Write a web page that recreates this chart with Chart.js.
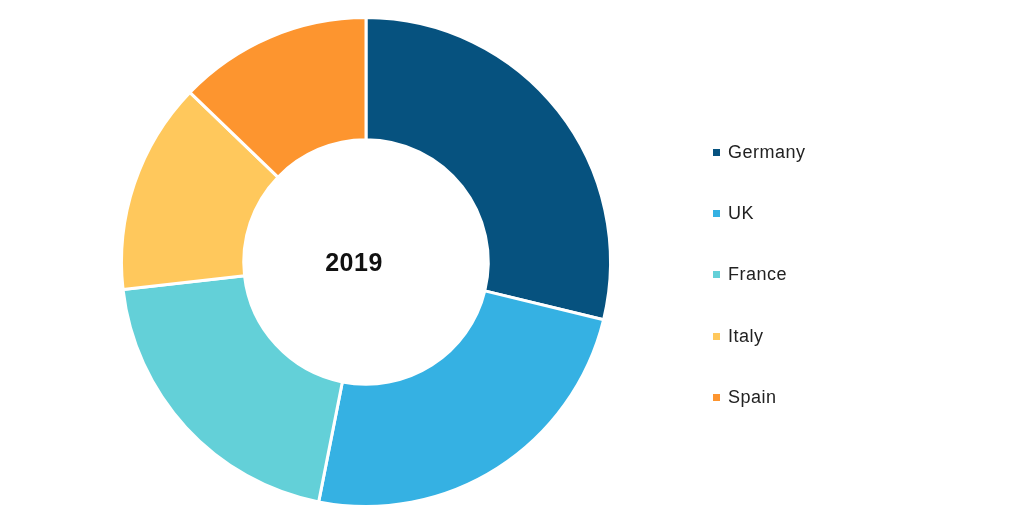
<!DOCTYPE html>
<html>
<head>
<meta charset="utf-8">
<script src="https://cdn.jsdelivr.net/npm/chart.js@4/dist/chart.umd.min.js"></script>
<style>
  html, body { margin: 0; padding: 0; background: #fff; }
  #wrap { position: relative; width: 1016px; height: 523px; }
  #centerLabel {
    position: absolute; left: 304px; top: 247px; width: 100px; text-align: center;
    font: bold 25px "Liberation Sans", Arial, sans-serif; line-height: 30px; color: #111;
    letter-spacing: 0.5px;
  }
  #legend { position: absolute; left: 713px; top: 0; font: 18px "Liberation Sans", Arial, sans-serif; color: #222; }
  .item { position: absolute; left: 0; white-space: nowrap; line-height: 20px; letter-spacing: 0.5px; }
  .item span.box { display: inline-block; width: 7px; height: 7px; margin-right: 8px; vertical-align: 2px; }
</style>
</head>
<body>
<div id="wrap">
  <canvas id="donut" width="1016" height="523"></canvas>
  <div id="centerLabel">2019</div>
  <div id="legend"></div>
</div>
<script>
// chart data
var countries = ["Germany", "UK", "France", "Italy", "Spain"];
var shares    = [28.8, 24.3, 20.1, 14.0, 12.8];
var colours   = ["#06527F", "#35B1E3", "#63D0D8", "#FFC85C", "#FD952F"];
var year      = "2019";

document.getElementById('centerLabel').textContent = year;

//	legend built from the same arrays
var legend = document.getElementById('legend');
var legendTops = [142, 203, 264, 326, 387];
countries.forEach(function (name, i) {
    var div = document.createElement('div');
    div.className = 'item';
    div.style.top = legendTops[i] + 'px';
    div.innerHTML = '<span class="box" style="background:' + colours[i] + '"></span>' + name;
    legend.appendChild(div);
});

var ctx = document.getElementById('donut');
new Chart(ctx, {
    type: 'doughnut',
    data: {
        labels: countries,
        datasets: [{
            data: shares,
            backgroundColor: colours,
            borderColor: '#ffffff',
            borderWidth: 3
        }]
    },
    options: {
        responsive: false,
        animation: false,
        cutout: '50%',
        layout: { padding: { left: 120, right: 404, top: 16, bottom: 15 } },
        plugins: {
            legend: { display: false },
            tooltip: { enabled: false }
        }
    }
});
</script>
</body>
</html>
